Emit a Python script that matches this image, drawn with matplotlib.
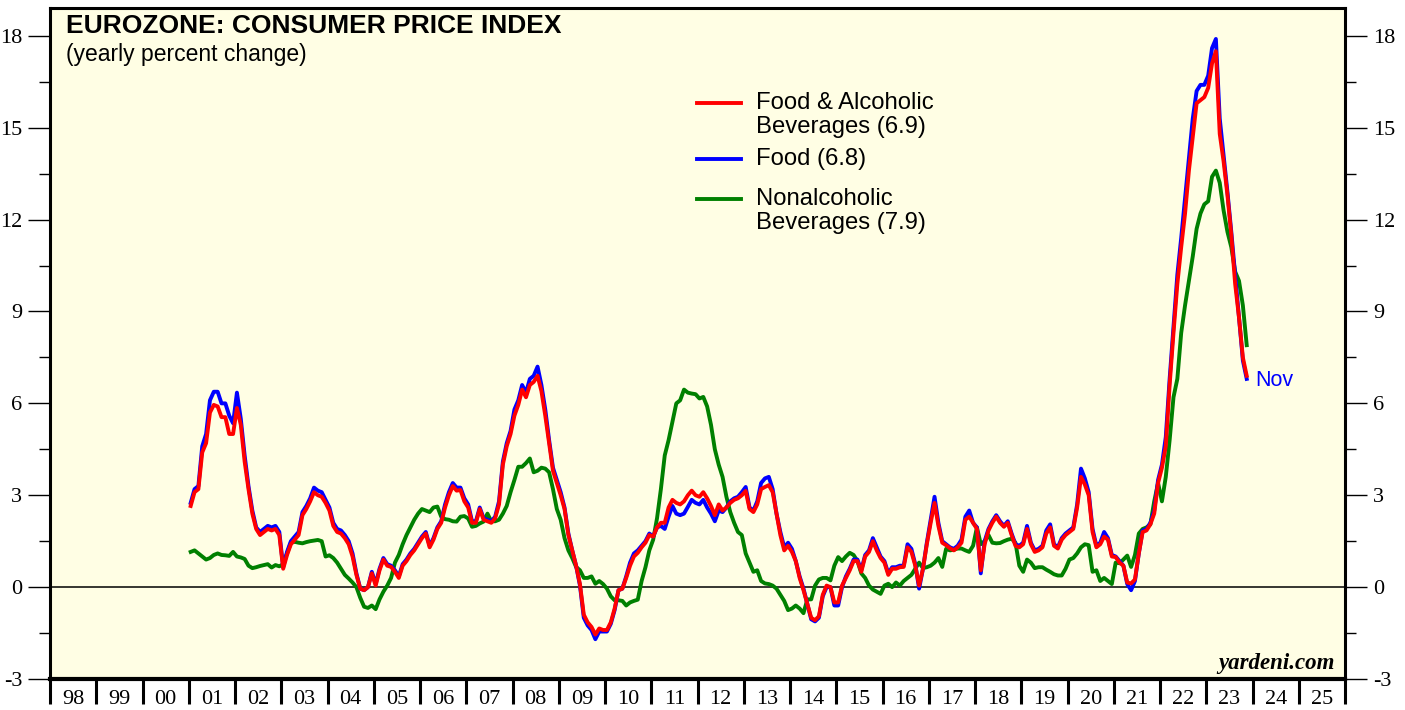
import numpy as np
import matplotlib
matplotlib.use("Agg")
import matplotlib.pyplot as plt
from matplotlib.ticker import MultipleLocator, FixedLocator, NullFormatter
from matplotlib.lines import Line2D

plt.rcParams["axes.unicode_minus"] = False

# ---------------- data (yearly % change, monthly, Jan 2001 - Nov 2023) ----------------
start_year = 2001
food_alc = [
    2.65, 3.1, 3.2, 4.4, 4.7, 5.7, 5.95, 5.9, 5.55, 5.55, 5.0, 5.0,          # 2001
    5.85, 5.3, 4.1, 3.2, 2.4, 1.9, 1.7, 1.8, 1.9, 1.85, 1.9, 1.7,            # 2002
    0.6, 1.05, 1.4, 1.55, 1.7, 2.35, 2.55, 2.8, 3.1, 3.0, 2.95, 2.75,        # 2003
    2.5, 2.0, 1.8, 1.75, 1.6, 1.4, 1.0, 0.4, -0.05, -0.1, 0.0, 0.45,         # 2004
    0.05, 0.55, 0.9, 0.7, 0.66, 0.5, 0.3, 0.7, 0.85, 1.05, 1.2, 1.4,         # 2005
    1.6, 1.75, 1.3, 1.55, 1.9, 2.1, 2.6, 3.0, 3.3, 3.15, 3.17, 2.8,          # 2006
    2.6, 2.1, 2.1, 2.55, 2.2, 2.15, 2.1, 2.25, 2.7, 4.0, 4.6, 5.0,           # 2007
    5.6, 5.95, 6.45, 6.2, 6.6, 6.7, 6.9, 6.4, 5.6, 4.7, 3.8, 3.4,            # 2008
    3.0, 2.55, 1.7, 1.2, 0.7, 0.1, -0.9, -1.15, -1.3, -1.55, -1.35, -1.4,    # 2009
    -1.4, -1.15, -0.7, -0.1, -0.05, 0.3, 0.7, 1.0, 1.12, 1.3, 1.45, 1.7,     # 2010
    1.65, 1.95, 2.1, 2.1, 2.6, 2.85, 2.75, 2.7, 2.8, 3.0, 3.15, 3.0,         # 2011
    2.95, 3.1, 2.9, 2.65, 2.35, 2.7, 2.5, 2.6, 2.75, 2.85, 2.9, 3.0,         # 2012
    3.14, 2.55, 2.45, 2.7, 3.2, 3.27, 3.33, 3.1, 2.4, 1.7, 1.2, 1.35,        # 2013
    1.15, 0.85, 0.3, -0.1, -0.55, -1.0, -1.08, -0.95, -0.25, 0.05, 0.0, -0.5, # 2014
    -0.5, 0.05, 0.3, 0.55, 0.85, 0.85, 0.5, 1.0, 1.15, 1.5, 1.2, 0.95,      # 2015
    0.8, 0.4, 0.6, 0.6, 0.65, 0.66, 1.3, 1.15, 0.7, 0.05, 0.6, 1.4,          # 2016
    2.1, 2.75, 2.0, 1.45, 1.37, 1.27, 1.2, 1.3, 1.45, 2.2, 2.3, 2.1,         # 2017
    1.9, 0.55, 1.4, 1.85, 2.1, 2.3, 2.1, 1.97, 2.1, 1.7, 1.35, 1.3,         # 2018
    1.4, 1.9, 1.4, 1.15, 1.2, 1.3, 1.75, 1.95, 1.35, 1.26, 1.55, 1.7,        # 2019
    1.8, 1.9, 2.6, 3.6, 3.35, 3.0, 1.8, 1.3, 1.4, 1.65, 1.55, 1.0,           # 2020
    0.98, 0.8, 0.7, 0.15, 0.12, 0.25, 1.1, 1.8, 1.85, 2.05, 2.4, 3.4,        # 2021
    3.9, 4.6, 6.6, 8.3, 9.9, 11.1, 12.2, 13.6, 14.7, 15.8, 15.9, 16.0,       # 2022
    16.3, 17.1, 17.5, 14.8, 13.9, 12.8, 11.5, 9.9, 8.8, 7.5, 6.9,            # 2023
]
food = [
    2.75, 3.2, 3.3, 4.6, 5.0, 6.1, 6.38, 6.38, 6.0, 6.0, 5.6, 5.35,
    6.35, 5.5, 4.3, 3.3, 2.5, 1.95, 1.8, 1.9, 2.0, 1.95, 2.0, 1.8,
    0.65, 1.15, 1.5, 1.65, 1.8, 2.45, 2.65, 2.9, 3.25, 3.15, 3.1, 2.85,
    2.6, 2.1, 1.9, 1.85, 1.7, 1.5, 1.1, 0.45, -0.05, -0.1, 0.0, 0.5,
    0.1, 0.6, 0.95, 0.75, 0.7, 0.55, 0.35, 0.75, 0.9, 1.1, 1.25, 1.45,
    1.65, 1.8, 1.35, 1.6, 1.95, 2.15, 2.7, 3.1, 3.4, 3.25, 3.25, 2.9,
    2.7, 2.15, 2.15, 2.6, 2.25, 2.2, 2.15, 2.3, 2.8, 4.1, 4.7, 5.1,
    5.8, 6.1, 6.6, 6.35, 6.8, 6.9, 7.2, 6.6, 5.8, 4.8, 3.9, 3.5,
    3.1, 2.6, 1.75, 1.2, 0.7, 0.05, -1.0, -1.25, -1.4, -1.7, -1.45, -1.45,
    -1.45, -1.2, -0.75, -0.1, -0.05, 0.35, 0.8, 1.1, 1.2, 1.35, 1.5, 1.75,
    1.65, 1.95, 2.0, 1.9, 2.3, 2.65, 2.4, 2.35, 2.4, 2.62, 2.85, 2.75,
    2.7, 2.85, 2.6, 2.4, 2.15, 2.5, 2.45, 2.6, 2.8, 2.9, 2.95, 3.1,
    3.27, 2.6, 2.5, 2.8, 3.4, 3.55, 3.6, 3.2, 2.4, 1.8, 1.3, 1.45,
    1.25, 0.85, 0.35, -0.05, -0.55, -1.05, -1.12, -1.0, -0.3, 0.0, 0.0, -0.6,
    -0.6, 0.0, 0.35, 0.6, 0.9, 0.9, 0.55, 1.05, 1.2, 1.6, 1.3, 1.0,
    0.85, 0.45, 0.65, 0.65, 0.7, 0.7, 1.4, 1.25, 0.75, -0.05, 0.6, 1.45,
    2.2, 2.95, 2.1, 1.5, 1.4, 1.3, 1.25, 1.35, 1.55, 2.3, 2.5, 2.1,
    1.95, 0.45, 1.5, 1.9, 2.15, 2.35, 2.15, 2.0, 2.15, 1.75, 1.4, 1.35,
    1.45, 2.0, 1.45, 1.2, 1.25, 1.35, 1.85, 2.05, 1.4, 1.3, 1.6, 1.75,
    1.85, 1.95, 2.7, 3.87, 3.55, 3.1, 1.9, 1.35, 1.45, 1.8, 1.6, 1.05,
    1.0, 0.85, 0.7, 0.1, -0.1, 0.2, 1.1, 1.85, 1.9, 2.1, 2.5, 3.5,
    4.0, 4.9, 6.8, 8.5, 10.2, 11.4, 12.7, 14.0, 15.3, 16.2, 16.4, 16.4,
    16.7, 17.6, 17.9, 15.3, 14.1, 12.9, 11.6, 10.2, 8.8, 7.4, 6.8,
]
nonalc = [
    1.15, 1.2, 1.1, 1.0, 0.9, 0.95, 1.05, 1.1, 1.05, 1.04, 1.02, 1.15,
    1.0, 0.97, 0.92, 0.7, 0.62, 0.65, 0.69, 0.72, 0.75, 0.64, 0.72, 0.68,
    0.75, 1.1, 1.45, 1.48, 1.45, 1.43, 1.47, 1.5, 1.52, 1.54, 1.5, 1.0,
    1.04, 0.95, 0.8, 0.6, 0.4, 0.28, 0.15, 0.0, -0.35, -0.64, -0.68, -0.6,
    -0.72, -0.4, -0.15, 0.05, 0.3, 0.8, 1.05, 1.4, 1.7, 1.95, 2.2, 2.4,
    2.55, 2.5, 2.45, 2.6, 2.63, 2.3, 2.22, 2.2, 2.15, 2.14, 2.3, 2.32,
    2.24, 1.97, 2.0, 2.08, 2.14, 2.4, 2.15, 2.15, 2.2, 2.4, 2.65, 3.1,
    3.5, 3.93, 3.93, 4.05, 4.2, 3.75, 3.8, 3.9, 3.87, 3.75, 3.2, 2.55,
    2.2, 1.6, 1.2, 0.95, 0.66, 0.55, 0.3, 0.3, 0.35, 0.11, 0.2, 0.1,
    -0.05, -0.3, -0.43, -0.43, -0.45, -0.6, -0.5, -0.45, -0.41, 0.2, 0.65, 1.2,
    1.55, 2.25, 3.2, 4.3, 4.8, 5.4, 6.0, 6.1, 6.45, 6.35, 6.32, 6.3,
    6.16, 6.21, 5.9, 5.3, 4.5, 4.0, 3.6, 2.95, 2.45, 2.1, 1.8, 1.7,
    1.1, 0.8, 0.5, 0.55, 0.2, 0.12, 0.1, 0.05, -0.05, -0.25, -0.45, -0.75,
    -0.7, -0.6, -0.7, -0.85, -0.4, -0.4, 0.05, 0.25, 0.3, 0.3, 0.22, 0.7,
    0.98, 0.85, 1.0, 1.12, 1.05, 0.85, 0.45, 0.3, 0.05, -0.08, -0.15, -0.22,
    0.05, 0.11, 0.0, 0.15, 0.05, 0.2, 0.3, 0.4, 0.6, 0.8, 0.62, 0.65,
    0.7, 0.8, 0.95, 0.66, 1.25, 1.2, 1.22, 1.26, 1.26, 1.2, 1.15, 1.35,
    1.95, 1.4, 1.5, 1.7, 1.45, 1.43, 1.44, 1.5, 1.55, 1.58, 1.45, 0.7,
    0.5, 0.9, 0.8, 0.62, 0.65, 0.65, 0.57, 0.5, 0.42, 0.38, 0.38, 0.6,
    0.9, 0.95, 1.1, 1.3, 1.4, 1.37, 0.5, 0.55, 0.2, 0.3, 0.2, 0.1,
    0.8, 0.78, 0.9, 1.03, 0.66, 1.05, 1.75, 1.9, 1.95, 2.05, 2.8, 3.4,
    2.8, 3.6, 4.8, 6.2, 6.8, 8.3, 9.2, 10.0, 10.8, 11.7, 12.2, 12.5,
    12.6, 13.4, 13.6, 13.2, 12.3, 11.6, 11.1, 10.3, 10.0, 9.2, 7.9,
]
year_labels = ["98", "99", "00", "01", "02", "03", "04", "05", "06", "07", "08", "09",
               "10", "11", "12", "13", "14", "15", "16", "17", "18", "19", "20", "21",
               "22", "23", "24", "25"]
legend_labels = ["Food & Alcoholic\nBeverages (6.9)", "Food (6.8)", "Nonalcoholic\nBeverages (7.9)"]
colors = ["#FF0000", "#0000FF", "#008000"]

# ---------------- figure ----------------
W, H = 1405, 710
fig = plt.figure(figsize=(W / 100, H / 100), dpi=100)
ax = fig.add_axes([50 / W, 1 - 679 / H, (1345 - 50) / W, (679 - 8) / H])
ax.set_facecolor("#FFFEE4")

n = len(food_alc)
x = start_year + (np.arange(n) + 0.5) / 12.0

ax.axhline(0, color="black", lw=1.1, zorder=1)
ax.plot(x, nonalc, color=colors[2], lw=2.8, zorder=2, solid_joinstyle="round")
ax.plot(x, food, color=colors[1], lw=2.8, zorder=3, solid_joinstyle="round")
ax.plot(x, food_alc, color=colors[0], lw=2.8, zorder=4, solid_joinstyle="round")

ax.set_xlim(1998, 2026)
ax.set_ylim(-3, 18.91)

for s in ax.spines.values():
    s.set_linewidth(2.2)
    s.set_color("black")
ax.spines["bottom"].set_linewidth(3.0)

serif = ["Liberation Serif", "DejaVu Serif"]
sans = ["Liberation Sans", "DejaVu Sans"]

# y ticks both sides
ax.yaxis.set_major_locator(MultipleLocator(3))
ax.yaxis.set_minor_locator(MultipleLocator(1.5))
ax.tick_params(axis="y", which="major", direction="out", length=16, width=1.0,
               left=True, right=True, labelleft=True, labelright=True, labelsize=16, pad=4)
ax.tick_params(axis="y", which="minor", direction="out", length=8, width=1.0,
               left=True, right=True)
for lab in ax.get_yticklabels():
    lab.set_fontfamily(serif)

# x ticks at year boundaries, labels mid-year
ax.xaxis.set_major_locator(FixedLocator(np.arange(1998, 2027)))
ax.xaxis.set_major_formatter(NullFormatter())
ax.xaxis.set_minor_locator(FixedLocator(np.arange(1998, 2026) + 0.5))
ax.set_xticklabels(year_labels, minor=True, fontfamily=serif, fontsize=16)
ax.tick_params(axis="x", which="major", direction="out", length=18, width=2.2)
ax.tick_params(axis="x", which="minor", length=0, pad=8)

# titles
fig.text(66 / W, 1 - 26 / H, "EUROZONE: CONSUMER PRICE INDEX", fontsize=19,
         fontweight="bold", family=sans, va="center", ha="left")
fig.text(66 / W, 1 - 55 / H, "(yearly percent change)", fontsize=16.5,
         family=sans, va="center", ha="left")
fig.text(1335 / W, 1 - 663 / H, "yardeni.com", fontsize=16.5, fontweight="bold",
         fontstyle="italic", family=serif, va="center", ha="right")

# legend (drawn manually to match spacing)
legend_y = [103, 159, 199]
for lbl, c, ly in zip(legend_labels, colors, legend_y):
    fig.add_artist(Line2D([697 / W, 741 / W], [1 - ly / H, 1 - ly / H], color=c, lw=2.8,
                          transform=fig.transFigure))
    for k, line in enumerate(lbl.split("\n")):
        fig.text(756 / W, 1 - (ly + 24 * k) / H, line, fontsize=17.2, family=sans,
                 va="center", ha="left")

# end label
ax.annotate("Nov", xy=(x[-1], food[-1]), xytext=(6, -1), textcoords="offset points",
            color="#0000FF", fontsize=15.5, family=sans, va="center", ha="left")

fig.savefig("out.png", dpi=100, facecolor="white")
